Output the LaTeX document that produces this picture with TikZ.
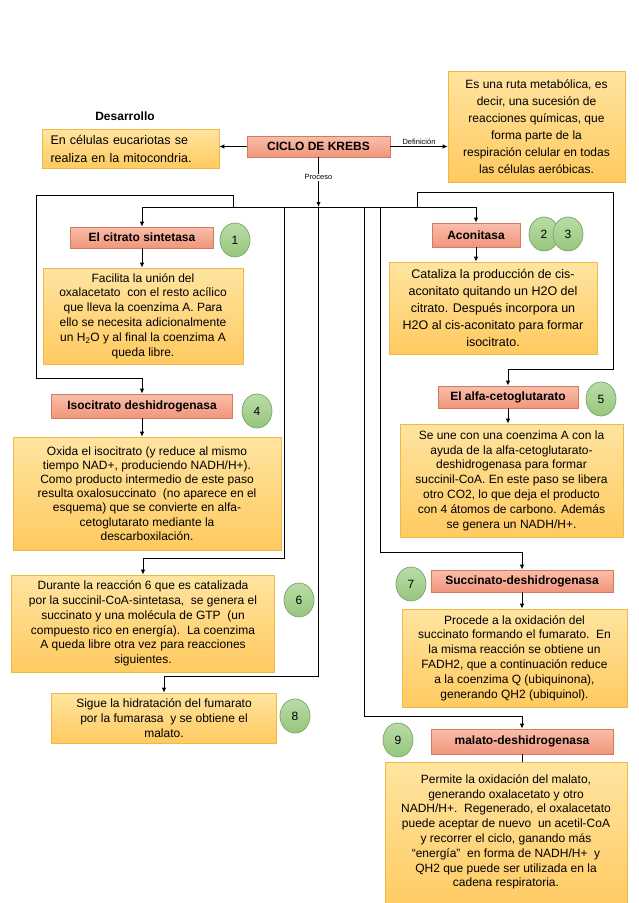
\documentclass[tikz,border=0pt]{standalone}
\usepackage{fontspec}
\setmainfont{Liberation Sans}
\usepackage{xcolor}
\usepackage{tikz}
\usetikzlibrary{arrows.meta,shapes.geometric}

\definecolor{enztop}{RGB}{249,190,170}
\definecolor{enzbot}{RGB}{240,150,124}
\definecolor{enzline}{RGB}{214,122,94}
\definecolor{desctop}{RGB}{255,228,160}
\definecolor{descbot}{RGB}{255,202,96}
\definecolor{descline}{RGB}{240,184,70}
\definecolor{numtop}{RGB}{186,220,166}
\definecolor{numbot}{RGB}{150,198,126}
\definecolor{numline}{RGB}{118,168,96}

\begin{document}
\begin{tikzpicture}[x=1pt, y=-1pt, line width=1pt, >={Latex[length=5pt,width=4.5pt]},
  enz/.style={draw=enzline, line width=0.7pt, top color=enztop, bottom color=enzbot, minimum height=22pt, inner sep=2pt, font=\fontsize{12}{14}\selectfont\bfseries},
  desc/.style={draw=descline, line width=0.7pt, top color=desctop, bottom color=descbot, align=center, inner sep=2pt, font=\fontsize{12}{14.8}\selectfont},
  num/.style={ellipse, draw=numline, line width=0.7pt, top color=numtop, bottom color=numbot, minimum width=30pt, minimum height=34pt, inner sep=0pt, font=\fontsize{12}{14}\selectfont},
  tag/.style={inner sep=1pt, font=\fontsize{7.5}{9}\selectfont}]
\useasboundingbox (0,0) rectangle (638,903);

% cabecera
\node[font=\fontsize{12}{14}\selectfont\bfseries] (desarrollo) at (125,116) {Desarrollo};
\node[desc, align=left, text width=160pt, inner xsep=8.5pt, minimum height=39pt, font=\fontsize{12.5}{18}\selectfont] (desa) at (130.5,148.5) {En células eucariotas se\\realiza en la mitocondria.};
\node[enz, minimum width=143pt, minimum height=21pt] (krebs) at (318.5,146.5) {CICLO DE KREBS};
\node[desc, minimum width=177pt, minimum height=111pt, font=\fontsize{12}{17}\selectfont] (defin) at (536.5,126.5) {Es una ruta metabólica, es\\decir, una sucesión de\\reacciones químicas, que\\forma parte de la\\respiración celular en todas\\las células aeróbicas.};
\draw[->] (krebs.west) -- (krebs.west -| desa.east);
\draw[->] (krebs.east) -- node[tag, above] {Definición} (krebs.east -| defin.west);

% pasos 1 a 5
\node[enz, minimum width=143pt, minimum height=21pt] (cs) at (142,237.5) {El citrato sintetasa};
\node[num] (c1) at (235,240) {1};
\node[desc, minimum width=200pt, minimum height=96pt] (d1) at (143,316) {Facilita la unión del\\oxalacetato\ \ con el resto acílico\\que lleva la coenzima A. Para\\ello se necesita adicionalmente\\un H\textsubscript{2}O y al final la coenzima A\\queda libre.};
\node[enz, minimum width=88pt, minimum height=24pt] (aco) at (476,235) {Aconitasa};
\node[num] (c2) at (544,234) {2};
\node[num] (c3) at (568,234) {3};
\node[desc, minimum width=208pt, minimum height=92pt, font=\fontsize{12.5}{17}\selectfont] (d2) at (493,308) {Cataliza la producción de cis-\\aconitato quitando un H2O del\\citrato. Después incorpora un\\H2O al cis-aconitato para formar\\isocitrato.};
\node[enz, minimum width=181pt, minimum height=24pt] (iso) at (142,406) {Isocitrato deshidrogenasa};
\node[num] (c4) at (257,411) {4};
\node[desc, minimum width=268pt, minimum height=113pt, font=\fontsize{12}{14.2}\selectfont] (d4) at (147,493.5) {Oxida el isocitrato (y reduce al mismo\\tiempo NAD+, produciendo NADH/H+).\\Como producto intermedio de este paso\\resulta oxalosuccinato\ \ (no aparece en el\\esquema) que se convierte en alfa-\\cetoglutarato mediante la\\descarboxilación.};
\node[enz, minimum width=140pt, minimum height=22pt] (alfa) at (508,397) {El alfa-cetoglutarato};
\node[num] (c5) at (601,399) {5};
\node[desc, minimum width=223pt, minimum height=113pt] (d5) at (511.5,480.5) {Se une con una coenzima A con la\\ayuda de la alfa-cetoglutarato-\\deshidrogenasa para formar\\succinil-CoA. En este paso se libera\\otro CO2, lo que deja el producto\\con 4 átomos de carbono. Además\\se genera un NADH/H+.};

% pasos 6 a 9
\node[desc, minimum width=263pt, minimum height=97pt] (d6) at (143,623.5) {Durante la reacción 6 que es catalizada\\por la succinil-CoA-sintetasa,\ \ se genera el\\succinato y una molécula de GTP\ \ (un\\compuesto rico en energía).\ \ La coenzima\\A queda libre otra vez para reacciones\\siguientes.};
\node[num] (c6) at (299,600) {6};
\node[desc, minimum width=225pt, minimum height=50pt] (d8) at (164,718) {Sigue la hidratación del fumarato\\por la fumarasa\ \ y se obtiene el\\malato.};
\node[num] (c8) at (295,716) {8};
\node[num] (c7) at (411,584) {7};
\node[enz, minimum width=182pt, minimum height=22pt] (suc) at (522,581) {Succinato-deshidrogenasa};
\node[desc, minimum width=225pt, minimum height=98pt] (d7) at (514.5,658) {Procede a la oxidación del\\succinato formando el fumarato.\ \ En\\la misma reacción se obtiene un\\FADH2, que a continuación reduce\\a la coenzima Q (ubiquinona),\\generando QH2 (ubiquinol).};
\node[num] (c9) at (398,740) {9};
\node[enz, minimum width=182pt, minimum height=25pt] (mal) at (522,741.5) {malato-deshidrogenasa};
% la caja sigue por debajo del borde de la hoja
\node[desc, minimum width=242pt, minimum height=152pt] (d9) at (506,838) {Permite la oxidación del malato,\\generando oxalacetato y otro\\NADH/H+.\ \ Regenerado, el oxalacetato\\puede aceptar de nuevo\ \ un acetil-CoA\\y recorrer el ciclo, ganando más\\“energía”\ \ en forma de NADH/H+\ \ y\\QH2 que puede ser utilizada en la\\cadena respiratoria.\\\mbox{}};

% proceso: reparto desde el ciclo
\coordinate (hub) at (318.5,207);
\coordinate (busL) at (142,207);
\coordinate (busR) at (476,207);
\coordinate (tapIso) at (233,207);
\coordinate (tapAlfa) at (417,207);
\coordinate (tapSix) at (284,207);
\coordinate (tapNine) at (364,207);
\coordinate (tapSeven) at (380,207);
\draw[->] (krebs) -- node[tag, fill=white, pos=0.4] {Proceso} (hub);
\draw (busL) -- (busR);
\draw[->] (busL) -- (cs.north);
\draw[->] (busR) -- (aco.north);
\draw[->] (tapIso) -- (233,195) -- (36,195) -- (36,378) -- (142,378) -- (iso.north);
\draw[->] (tapAlfa) -- (417,192) -- (613,192) -- (613,369) -- (508,369) -- (alfa.north);
\draw[->] (tapSix) -- (284,558) -- (143,558) -- (d6.north);
\draw[->] (hub) -- (318.5,676) -- (164,676) -- (d8.north);
\draw[->] (tapSeven) -- (380,552) -- (522,552) -- (suc.north);
\draw[->] (tapNine) -- (364,716) -- (522,716) -- (mal.north);

% enzima -> descripcion
\draw[->] (cs.south) -- (cs.south |- d1.north);
\draw[->] (aco.south) -- (aco.south |- d2.north);
\draw[->] (iso.south) -- (iso.south |- d4.north);
\draw[->] (alfa.south) -- (alfa.south |- d5.north);
\draw[->] (suc.south) -- (suc.south |- d7.north);
\draw (mal.south) -- (mal.south |- d9.north);
\end{tikzpicture}
\end{document}
